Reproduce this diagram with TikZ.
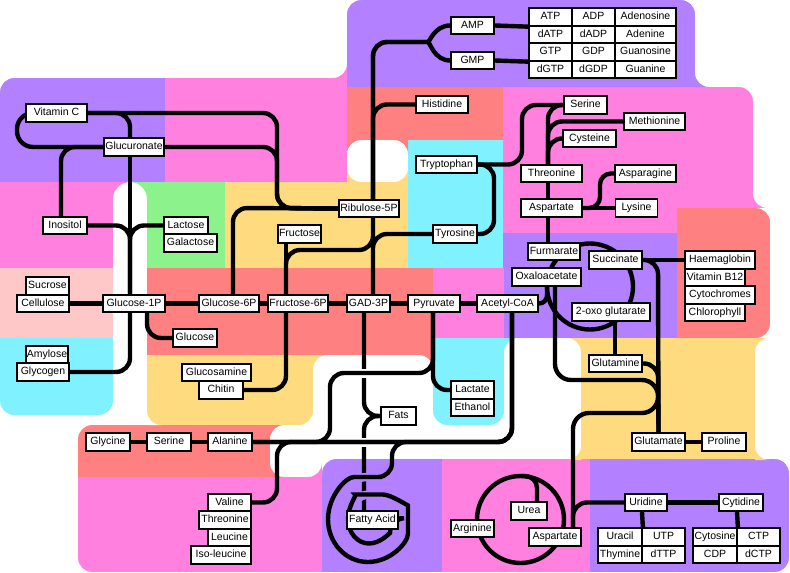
\documentclass[tikz,border=0pt]{standalone}
\usepackage{fontspec}
\setmainfont{Liberation Sans}
\definecolor{cpurple}{RGB}{179,128,255}
\definecolor{cpink}{RGB}{255,128,223}
\definecolor{csalmon}{RGB}{255,128,128}
\definecolor{cyellow}{RGB}{255,219,128}
\definecolor{ccyan}{RGB}{128,242,255}
\definecolor{cgreen}{RGB}{140,242,140}
\definecolor{clight}{RGB}{255,200,200}
\pgfdeclarelayer{bg}
\pgfdeclarelayer{lines}
\pgfsetlayers{bg,lines,main}
\newcommand{\crnTL}[4]{\fill[#1] (#2,#3) -- ++(#4,0) arc[start angle=270,end angle=180,radius=#4] -- cycle;}
\newcommand{\crnTR}[4]{\fill[#1] (#2,#3) -- ++(-#4,0) arc[start angle=270,end angle=360,radius=#4] -- cycle;}
\newcommand{\crnBL}[4]{\fill[#1] (#2,#3) -- ++(#4,0) arc[start angle=90,end angle=180,radius=#4] -- cycle;}
\newcommand{\crnBR}[4]{\fill[#1] (#2,#3) -- ++(-#4,0) arc[start angle=90,end angle=0,radius=#4] -- cycle;}
\tikzset{
  box/.style={draw, fill=white, line width=1.8pt, font=\fontsize{10.5}{12}\selectfont,
    inner xsep=1pt, inner ysep=0pt, minimum height=17.5pt, text height=7.6pt, text depth=2.2pt},
  conn/.style={line width=4.4pt, rounded corners=14pt},
  casing/.style={white, line width=9pt},
}
\begin{document}
\begin{tikzpicture}[x=1pt,y=-1pt]
\useasboundingbox (0,0) rectangle (790,573);
% ---------------- nodes ----------------
\node[box,minimum width=61pt] (vitc) at (56.5,113) {Vitamin C};
\node[box,minimum width=60pt] (glucur) at (134,147) {Glucuronate};
\node[box,minimum width=44pt] (inositol) at (65,225.5) {Inositol};
\node[box,minimum width=44pt] (lactose) at (186,225.5) {Lactose};
\node[box,minimum width=53pt] (galactose) at (190.5,243) {Galactose};
\node[box,minimum width=60pt] (ribulose) at (369,208.5) {Ribulose-5P};
\node[box,minimum width=43pt] (fructose) at (299.5,234) {Fructose};
\node[box,minimum width=43pt] (sucrose) at (47.5,286) {Sucrose};
\node[box,minimum width=52pt] (cellulose) at (43,303.5) {Cellulose};
\node[box,minimum width=62pt] (g1p) at (134,303.5) {Glucose-1P};
\node[box,minimum width=60pt] (g6p) at (229,303.5) {Glucose-6P};
\node[box,minimum width=60pt] (f6p) at (298,303.5) {Fructose-6P};
\node[box,minimum width=43pt] (gad) at (368.5,303.5) {GAD-3P};
\node[box,minimum width=52pt] (pyruvate) at (434,303.5) {Pyruvate};
\node[box,minimum width=61pt] (acoa) at (507.5,303.5) {Acetyl-CoA};
\node[box,minimum width=44pt] (glucose) at (195,338) {Glucose};
\node[box,minimum width=42pt] (amylose) at (47,354.5) {Amylose};
\node[box,minimum width=52pt] (glycogen) at (43,372) {Glycogen};
\node[box,minimum width=69pt] (glucosamine) at (216.5,372.5) {Glucosamine};
\node[box,minimum width=44pt] (chitin) at (221,390) {Chitin};
\node[box,minimum width=44pt] (glycine) at (108,442) {Glycine};
\node[box,minimum width=44pt] (serineb) at (169,442) {Serine};
\node[box,minimum width=44pt] (alanine) at (230,442) {Alanine};
\node[box,minimum width=43pt] (valine) at (229.5,502.5) {Valine};
\node[box,minimum width=52pt] (threonineb) at (225,520) {Threonine};
\node[box,minimum width=43pt] (leucine) at (229.5,537.5) {Leucine};
\node[box,minimum width=60pt] (isoleucine) at (221,555) {Iso-leucine};
\node[box,minimum width=51pt] (fattyacid) at (372.5,520) {Fatty Acid};
\node[box,minimum width=43pt] (lactate) at (472.5,390) {Lactate};
\node[box,minimum width=43pt] (ethanol) at (472.5,407.5) {Ethanol};
\node[box,minimum width=35pt] (fats) at (398.5,416) {Fats};
\node[box,minimum width=43pt] (amp) at (472.5,25.5) {AMP};
\node[box,minimum width=43pt] (gmp) at (472.5,60.5) {GMP};
\node[box,minimum width=43pt] (atp) at (550.5,17) {ATP};
\node[box,minimum width=43pt] (adp) at (593.5,17) {ADP};
\node[box,minimum width=61pt] (adenosine) at (645.5,17) {Adenosine};
\node[box,minimum width=43pt] (datp) at (550.5,34.5) {dATP};
\node[box,minimum width=43pt] (dadp) at (593.5,34.5) {dADP};
\node[box,minimum width=61pt] (adenine) at (645.5,34.5) {Adenine};
\node[box,minimum width=43pt] (gtp) at (550.5,52) {GTP};
\node[box,minimum width=43pt] (gdp) at (593.5,52) {GDP};
\node[box,minimum width=61pt] (guanosine) at (645.5,52) {Guanosine};
\node[box,minimum width=43pt] (dgtp) at (550.5,69.5) {dGTP};
\node[box,minimum width=43pt] (dgdp) at (593.5,69.5) {dGDP};
\node[box,minimum width=61pt] (guanine) at (645.5,69.5) {Guanine};
\node[box,minimum width=52pt] (histidine) at (442,104.5) {Histidine};
\node[box,minimum width=61pt] (tryptophan) at (446.5,164.5) {Tryptophan};
\node[box,minimum width=44pt] (tyrosine) at (455,234) {Tyrosine};
\node[box,minimum width=43pt] (serine) at (585.5,105) {Serine};
\node[box,minimum width=61pt] (methionine) at (654.5,121.5) {Methionine};
\node[box,minimum width=53pt] (cysteine) at (589.5,138.5) {Cysteine};
\node[box,minimum width=61pt] (threonine) at (551.5,173.5) {Threonine};
\node[box,minimum width=61pt] (asparagine) at (645.5,173.5) {Asparagine};
\node[box,minimum width=61pt] (aspartate) at (551.5,208) {Aspartate};
\node[box,minimum width=42pt] (lysine) at (636.5,208) {Lysine};
\node[box,minimum width=52pt] (fumarate) at (554,251.5) {Furmarate};
\node[box,minimum width=53pt] (succinate) at (615.5,260) {Succinate};
\node[box,minimum width=70pt] (haem) at (720,260) {Haemaglobin};
\node[box,minimum width=69pt] (oxalo) at (546.5,277) {Oxaloacetate};
\node[box,minimum width=60pt] (vitb) at (715,277.5) {Vitamin B12};
\node[box,minimum width=70pt] (cyto) at (720,295) {Cytochromes};
\node[box,minimum width=60pt] (chloro) at (715,312.5) {Chlorophyll};
\node[box,minimum width=78pt] (oxoglut) at (611,312) {2-oxo glutarate};
\node[box,minimum width=53pt] (glutamine) at (615.5,363.5) {Glutamine};
\node[box,minimum width=53pt] (glutamate) at (658.5,442) {Glutamate};
\node[box,minimum width=44pt] (proline) at (724,442) {Proline};
\node[box,minimum width=42pt] (uridine) at (646,502.5) {Uridine};
\node[box,minimum width=44pt] (cytidine) at (741,502.5) {Cytidine};
\node[box,minimum width=36pt] (urea) at (529,511) {Urea};
\node[box,minimum width=43pt] (arginine) at (472.5,528.5) {Arginine};
\node[box,minimum width=52pt] (aspartateb) at (555,537) {Aspartate};
\node[box,minimum width=44pt] (uracil) at (620,537) {Uracil};
\node[box,minimum width=43pt] (utp) at (663.5,537) {UTP};
\node[box,minimum width=44pt] (thymine) at (620,554.5) {Thymine};
\node[box,minimum width=43pt] (dttp) at (663.5,554.5) {dTTP};
\node[box,minimum width=44pt] (cytosine) at (715,537) {Cytosine};
\node[box,minimum width=43pt] (ctp) at (758.5,537) {CTP};
\node[box,minimum width=44pt] (cdp) at (715,554.5) {CDP};
\node[box,minimum width=43pt] (dctp) at (758.5,554.5) {dCTP};
\coordinate (tcac) at (590,286.5);
\coordinate (tcaw) at (547,286.5);
\coordinate (ureac) at (520.5,519.5);
\coordinate (ureatop) at (520.5,476);
% ---------------- background ----------------
\begin{pgfonlayer}{bg}
\fill[white] (0,0) rectangle (790,573);
\fill[cpurple] (0,78) rectangle (165,182);
\fill[cpink] (165,78) rectangle (347,182);
\fill[cpurple] (347,0) rectangle (695,87);
\fill[csalmon] (347,87) rectangle (503,140);
\fill[cpink] (503,87) rectangle (753,208);
\fill[cpink] (503,208) rectangle (677,233);
\fill[ccyan] (408,140) rectangle (503,268);
\fill[cpurple] (503,233) rectangle (677,338);
\fill[csalmon] (677,208) rectangle (770,338);
\fill[cpink] (0,182) rectangle (130,268);
\fill[cgreen] (130,182) rectangle (225,268);
\fill[cyellow] (225,182) rectangle (408,268);
\fill[clight] (0,268) rectangle (113,338);
\fill[csalmon] (147,268) rectangle (433,355);
\fill[cpink] (433,268) rectangle (504,338);
\fill[ccyan] (0,338) rectangle (113,415);
\fill[ccyan] (433,338) rectangle (504,425);
\fill[cyellow] (147,355) rectangle (313,425);
\fill[cyellow] (581,338) rectangle (755,460);
\fill[csalmon] (78,425) rectangle (270,477);
\fill[cpink] (78,477) rectangle (322,572);
\fill[cpurple] (322,459) rectangle (442,572);
\fill[cpink] (442,459) rectangle (590,572);
\fill[cpurple] (590,459) rectangle (789,572);
\fill[white] (113,182) rectangle (147,268);
% fillets of white corners
\crnBR{cpink}{347}{78}{14}
\crnBL{cpurple}{695}{87}{14}
\crnBL{cpink}{753}{208}{14}
\crnTL{cyellow}{755}{338}{14}
\crnBL{cyellow}{755}{460}{14}
\crnTL{ccyan}{504}{338}{14}
\crnTR{cyellow}{581}{338}{14}
\crnBR{cyellow}{581}{460}{14}
\crnTL{cyellow}{313}{355}{14}
\crnTR{csalmon}{433}{355}{14}
\crnTL{csalmon}{270}{425}{14}
\crnBL{csalmon}{270}{477}{14}
\crnBR{cpink}{322}{477}{14}
\crnTL{csalmon}{347}{140}{14}
\crnTR{csalmon}{408}{140}{14}
\crnBL{cyellow}{347}{182}{14}
\crnBR{cyellow}{408}{182}{14}
\crnTL{cpink}{113}{182}{17}
\crnTR{cgreen}{147}{182}{17}
% rounded colored corners
\crnTL{white}{0}{78}{14}
\crnTL{white}{347}{0}{14}
\crnTR{white}{695}{0}{14}
\crnTR{white}{753}{87}{14}
\crnTR{white}{770}{208}{14}
\crnBR{white}{770}{338}{14}
\crnBL{white}{0}{415}{14}
\crnBR{white}{113}{415}{14}
\crnBL{white}{433}{425}{14}
\crnBR{white}{504}{425}{14}
\crnBL{white}{147}{425}{14}
\crnBR{white}{313}{425}{14}
\crnTL{white}{78}{425}{14}
\crnBL{white}{78}{572}{14}
\crnTL{white}{322}{459}{14}
\crnTR{white}{789}{459}{14}
\crnBR{white}{789}{572}{14}
\end{pgfonlayer}
% ---------------- connectors ----------------
\begin{pgfonlayer}{lines}
\draw[conn] ([xshift=-4.5pt]gad.south) -- (364,416) -- (fats.west);
\draw[conn] (fats.west) -- (364,416) -- ([xshift=-8.5pt]fattyacid.north);
\draw[casing] (356,373) -- (372,373);
\draw[casing] (356,442) -- (372,442);
\begin{scope}
\clip (357,462) rectangle (371,506);
\draw[casing, cpurple, line width=8.5pt] (392,477) -- (368,477) arc[start angle=270,end angle=0,x radius=40,y radius=42.5]
  arc[start angle=0,end angle=-90,x radius=39,y radius=25]
  arc[start angle=-90,end angle=-360,x radius=21,y radius=24.5];
\end{scope}
% carbohydrates
\draw[conn] (vitc.east) -- (277,113) -- (277,208) -- (ribulose.west);
\draw[conn] (glucur.east) -- (277,147) -- (277,208) -- (ribulose.west);
\draw[conn] (ribulose.west) -- (233,208) -- ([xshift=4pt]g6p.north);
\draw[conn, rounded corners=16pt] (vitc.west) -- (17,113) -- (17,147) -- (glucur.west);
\draw[conn] (vitc.east) -- (130,113) -- ([xshift=-4pt]glucur.north);
\draw[conn] ([xshift=-4pt]glucur.south) -- ([xshift=-4pt]g1p.north);
\draw[conn] (glucur.west) -- (61,147) -- ([xshift=-4pt]inositol.north);
\draw[conn] (inositol.east) -- (130,225.5) -- ([xshift=-4pt]g1p.north);
\draw[conn] (lactose.west) -- (130,225.5) -- ([xshift=-4pt]g1p.north);
\draw[conn] (cellulose.east) -- (g1p.west);
\draw[conn] (g1p.east) -- (g6p.west);
\draw[conn] (g6p.east) -- (f6p.west);
\draw[conn] (f6p.east) -- (gad.west);
\draw[conn] (gad.east) -- (pyruvate.west);
\draw[conn] (pyruvate.east) -- (acoa.west);
\draw[conn] ([xshift=13pt]g1p.south) -- (147,338) -- (glucose.west);
\draw[conn] (glycogen.east) -- (130,372) -- ([xshift=-4pt]g1p.south);
\draw[conn] ([xshift=-13.5pt]fructose.south) -- ([xshift=-12pt]f6p.north);
\draw[conn] ([xshift=-12pt]f6p.north) -- (286,250) -- (373,250) -- ([xshift=4pt]ribulose.south);
\draw[conn] ([xshift=-12pt]f6p.south) -- (286,390) -- (chitin.east);
\draw[conn] ([xshift=4pt]ribulose.south) -- ([xshift=4.5pt]gad.north);
\draw[conn] (tyrosine.west) -- (373,234) -- ([xshift=4.5pt]gad.north);
% nucleotides and amino acids
\draw[conn] ([xshift=4pt]ribulose.north) -- (373,42) -- (414,42) to[out=0,in=180] (amp.west);
\draw[conn] ([xshift=4pt]ribulose.north) -- (373,42) -- (414,42) to[out=0,in=180] (gmp.west);
\draw[conn] (amp.east) -- (atp.south west);
\draw[conn] (gmp.east) -- (gtp.south west);
\draw[conn] ([xshift=4pt]ribulose.north) -- (373,104.5) -- (histidine.west);
\draw[conn] (tryptophan.east) -- (522,164.5) -- (522,105) -- (serine.west);
\draw[conn] (tryptophan.east) -- (494,164.5) -- (494,234) -- (tyrosine.east);
\draw[conn] (serine.west) -- (548,105) -- ([xshift=-3.5pt]threonine.north);
\draw[conn] (methionine.west) -- (548,121.5) -- ([xshift=-3.5pt]threonine.north);
\draw[conn] (cysteine.west) -- (548,138.5) -- ([xshift=-3.5pt]threonine.north);
\draw[conn] ([xshift=-3.5pt]threonine.south) -- ([xshift=-3.5pt]aspartate.north);
\draw[conn] ([xshift=-3.5pt]aspartate.south) -- ([xshift=-6pt]fumarate.north);
\draw[conn] (aspartate.east) -- (lysine.west);
\draw[conn, rounded corners=11pt] (aspartate.east) -- (600,208) -- (600,173.5) -- (asparagine.west);
% TCA
\draw[line width=4.4pt] (tcac) circle[radius=43];
\draw[conn, rounded corners=8pt] (acoa.east) -- (547,303.5) -- (tcaw);
\draw[conn, rounded corners=16pt] ([xshift=8.5pt]oxalo.south) -- (555,380) -- (658,380) -- (658,413) -- (573,413) -- ([xshift=18pt]aspartateb.north);
\draw[conn] (succinate.east) -- (haem.west);
\draw[conn] (succinate.east) -- (658,260) -- (glutamate.north);
\draw[conn] ([xshift=4pt]oxoglut.south) -- ([xshift=-0.5pt]glutamine.north);
\draw[conn] (glutamine.east) -- (658,363.5) -- (glutamate.north);
\draw[conn] (glutamate.east) -- (proline.west);
% nucleotides bottom
\draw[conn] ([xshift=18pt]aspartateb.north) -- (573,502.5) -- (uridine.west);
\draw[conn] (uridine.east) -- (cytidine.west);
\draw[conn] ([xshift=-4pt]uridine.south) -- (uracil.north east);
\draw[conn] ([xshift=-4pt]cytidine.south) -- (cytosine.north east);
% urea cycle
\draw[line width=4.4pt] (ureac) circle[radius=43.5];
\draw[conn, rounded corners=12pt] (ureatop) -- (537,476) -- ([xshift=8pt]urea.north);
% pyruvate, lactate, alanine, fats
\draw[conn] ([xshift=-1pt]pyruvate.south) -- (433,373) -- (330,373) -- (330,442) -- (alanine.east);
\draw[conn] ([xshift=-1pt]pyruvate.south) -- (433,390) -- (lactate.west);
\draw[conn] ([xshift=4.5pt]acoa.south) -- (512,442) -- (alanine.east);
\draw[conn] (valine.east) -- (277,502.5) -- (277,442) -- (512,442) -- ([xshift=4.5pt]acoa.south);
\draw[conn] (glycine.east) -- (serineb.west);
\draw[conn] (serineb.east) -- (alanine.west);
\draw[conn] ([xshift=4.5pt]acoa.south) -- (512,442) -- (392,442) -- (392,477) -- (368,477)
  arc[start angle=270,end angle=0,x radius=40,y radius=42.5]
  arc[start angle=0,end angle=-90,x radius=39,y radius=25]
  arc[start angle=-90,end angle=-360,x radius=21,y radius=24.5] -- (fattyacid);
\end{pgfonlayer}
\end{tikzpicture}
\end{document}
